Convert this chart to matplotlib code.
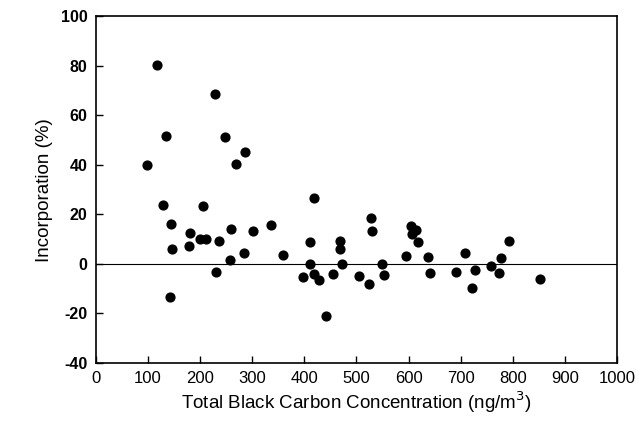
import matplotlib
matplotlib.use('Agg')
import matplotlib.pyplot as plt

plt.rcParams['font.family'] = ['Liberation Sans', 'DejaVu Sans']
plt.rcParams['axes.unicode_minus'] = False

# Total black carbon concentration (ng/m3) vs incorporation (%)
bc = [98, 117, 135, 128, 205, 228, 247, 286, 269,
      418, 144, 336, 181, 260, 301, 200, 212, 236,
      411, 468, 145, 179, 285, 358, 468, 258, 410,
      472, 231, 397, 419, 429, 454, 142, 442,
      504, 524, 527, 530, 549, 553, 596, 605, 615,
      607, 618, 637, 642, 691, 708, 722, 727, 759,
      774, 778, 793, 853]
inc = [39.9, 80.2, 51.7, 23.8, 23.3, 68.8, 51.3, 45.1, 40.5,
       26.8, 16.2, 15.8, 12.5, 14.0, 13.2, 10.2, 10.2, 9.4,
       8.8, 9.2, 6.2, 7.4, 4.6, 3.6, 6.1, 1.5, -0.1,
       0.1, -3.4, -5.4, -4.0, -6.5, -4.2, -13.3, -20.9,
       -4.8, -8.0, 18.6, 13.3, -0.1, -4.3, 3.2, 15.4, 13.7,
       12.1, 9.0, 2.8, -3.8, -3.1, 4.4, -9.6, -2.6, -0.9,
       -3.8, 2.2, 9.4, -5.9]

xticks = [0, 100, 200, 300, 400, 500, 600, 700, 800, 900, 1000]
yticks = [-40, -20, 0, 20, 40, 60, 80, 100]

fig = plt.figure(figsize=(6.38, 4.22), dpi=100)
ax = fig.add_axes([0.1505, 0.14, 0.8165, 0.821])

ax.axhline(0, color='black', lw=0.8, zorder=1)
ax.scatter(bc, inc, s=40, color='black', zorder=3)

ax.set_xlim(0, 1000)
ax.set_ylim(-40, 100)
ax.set_xticks(xticks)
ax.set_yticks(yticks)
ax.tick_params(direction='in', length=5, width=1, pad=6)
ax.tick_params(axis='x', labelsize=12)
ax.tick_params(axis='y', labelsize=11.5)
for lab in ax.get_yticklabels():
    lab.set_fontweight('bold')
for s in ax.spines.values():
    s.set_linewidth(1.2)

ax.set_xlabel('Total Black Carbon Concentration (ng/m$^3$)', fontsize=13.5, labelpad=2)
ax.set_ylabel('Incorporation (%)', fontsize=13.5, labelpad=6)

plt.savefig('out.png', dpi=100)
